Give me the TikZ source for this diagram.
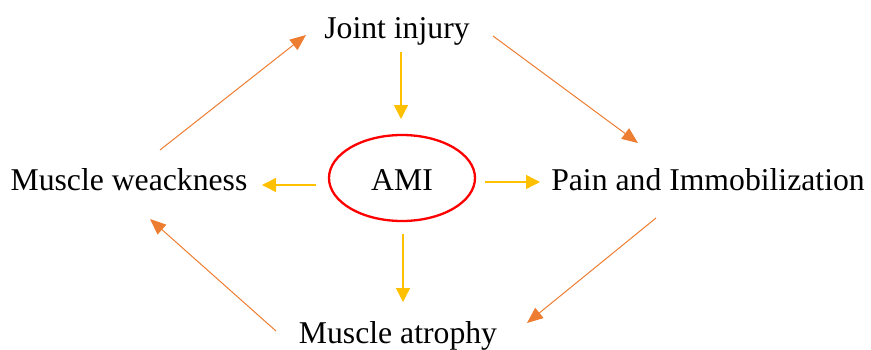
\documentclass[tikz,border=0pt]{standalone}
\usepackage{fontspec}
\setmainfont{Liberation Serif}
\usetikzlibrary{arrows.meta,shapes.geometric}
\definecolor{ylw}{HTML}{FFC000}
\definecolor{org}{HTML}{ED7D31}
\tikzset{
  lbl/.style={inner sep=0pt, anchor=base, font=\fontsize{31.7}{36}\selectfont},
  yarr/.style={draw=ylw, line width=1.4pt, -{Triangle[length=14pt,width=14pt]}, ylw},
  oarr/.style={draw=org, line width=1pt, -{Triangle[length=16pt,width=13pt]}, org},
}
\begin{document}
\begin{tikzpicture}[x=1pt,y=-1pt]
\useasboundingbox (0,0) rectangle (871,349);
\node[lbl] (joint) at (397,38) {Joint injury};
\node[lbl] (weak) at (129,190) {Muscle weackness};
\node[lbl] (pain) at (708,190) {Pain and Immobilization};
\node[lbl] (atro) at (398,343) {Muscle atrophy};
\node[draw=red, line width=2.3pt, ellipse, minimum width=146pt, minimum height=86pt, inner sep=0pt] (ami) at (402,178) {};
\node[lbl] at (402,190) (amitxt) {AMI};
% yellow arrow endpoints
\coordinate (y1s) at (401,52); \coordinate (y1e) at (401,119);
\coordinate (y2s) at (316,185); \coordinate (y2e) at (262,185);
\coordinate (y3s) at (485,182); \coordinate (y3e) at (540,182);
\coordinate (y4s) at (403,234); \coordinate (y4e) at (403,302);
\draw[yarr] (y1s) -- (y1e);
\draw[yarr] (y2s) -- (y2e);
\draw[yarr] (y3s) -- (y3e);
\draw[yarr] (y4s) -- (y4e);
% orange arrow endpoints
\coordinate (o1s) at (493,36); \coordinate (o1e) at (638,143);
\coordinate (o2s) at (656,218); \coordinate (o2e) at (527,323);
\coordinate (o3s) at (276,331); \coordinate (o3e) at (150,219);
\coordinate (o4s) at (160,150); \coordinate (o4e) at (306,35);
\draw[oarr] (o1s) -- (o1e);
\draw[oarr] (o2s) -- (o2e);
\draw[oarr] (o3s) -- (o3e);
\draw[oarr] (o4s) -- (o4e);
\end{tikzpicture}
\end{document}
